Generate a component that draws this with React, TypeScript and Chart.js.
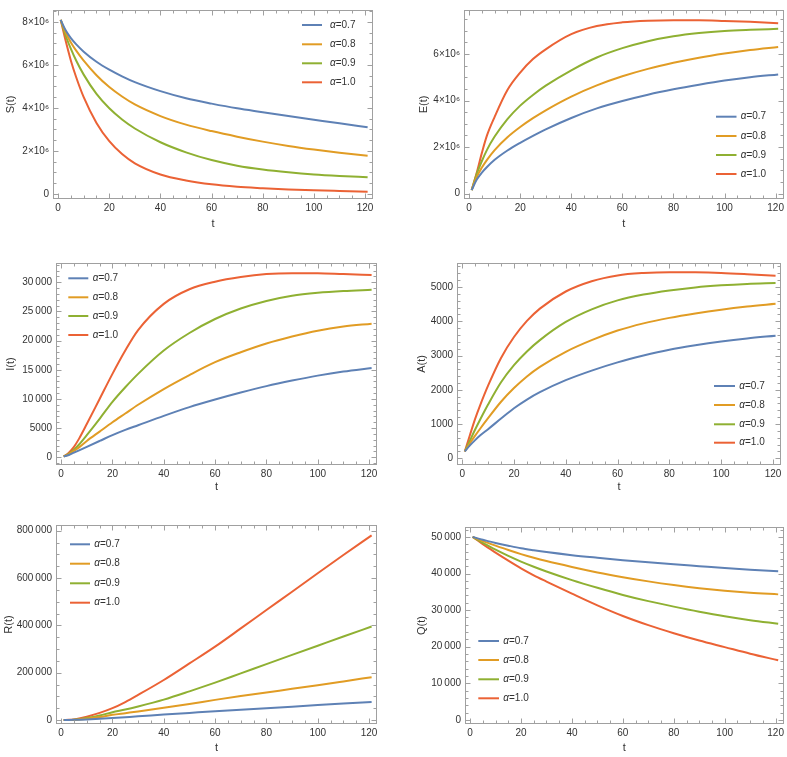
import React, { useEffect, useRef } from "react";
import { Chart, registerables } from "chart.js";

Chart.register(...registerables);

// ---------- data ----------
const T = [1, 3, 5, 7, 10, 15, 20, 25, 30, 40, 50, 60, 70, 80, 90, 100, 110, 121];
const ALPHA_LABELS = ["0.7", "0.8", "0.9", "1.0"];
const COLORS = ["#5E81B5", "#E19C24", "#8FB032", "#EB6235"];

const X_TICKS = [0, 20, 40, 60, 80, 100, 120];
const X_TICK_LABELS = ["0", "20", "40", "60", "80", "100", "120"];

// S(t)
const S_A07 = [8.1e6, 7.6e6, 7.25e6, 6.97e6, 6.62e6, 6.15e6, 5.78e6, 5.47e6, 5.2e6, 4.78e6, 4.45e6, 4.2e6, 3.98e6, 3.8e6, 3.62e6, 3.45e6, 3.28e6, 3.1e6];
const S_A08 = [8.1e6, 7.5e6, 7.05e6, 6.68e6, 6.2e6, 5.52e6, 4.97e6, 4.53e6, 4.16e6, 3.62e6, 3.22e6, 2.92e6, 2.66e6, 2.43e6, 2.23e6, 2.06e6, 1.91e6, 1.77e6];
const S_A09 = [8.1e6, 7.35e6, 6.75e6, 6.22e6, 5.55e6, 4.65e6, 3.98e6, 3.46e6, 3.04e6, 2.4e6, 1.93e6, 1.57e6, 1.31e6, 1.13e6, 1.0e6, 0.9e6, 0.83e6, 0.77e6];
const S_A10 = [8.1e6, 7.1e6, 6.2e6, 5.45e6, 4.5e6, 3.3e6, 2.45e6, 1.85e6, 1.42e6, 0.9e6, 0.62e6, 0.44e6, 0.33e6, 0.26e6, 0.2e6, 0.16e6, 0.13e6, 0.1e6];
const S_TICKS = [0, 2e6, 4e6, 6e6, 8e6];
const S_TICK_LABELS = ["0", "2×10⁶", "4×10⁶", "6×10⁶", "8×10⁶"];

// E(t)
const E_A07 = [0.15e6, 0.6e6, 0.9e6, 1.14e6, 1.45e6, 1.85e6, 2.18e6, 2.48e6, 2.76e6, 3.25e6, 3.66e6, 3.98e6, 4.25e6, 4.48e6, 4.68e6, 4.86e6, 5.0e6, 5.12e6];
const E_A08 = [0.15e6, 0.72e6, 1.12e6, 1.45e6, 1.87e6, 2.42e6, 2.86e6, 3.24e6, 3.58e6, 4.17e6, 4.65e6, 5.04e6, 5.36e6, 5.62e6, 5.84e6, 6.02e6, 6.17e6, 6.3e6];
const E_A09 = [0.15e6, 0.85e6, 1.4e6, 1.88e6, 2.45e6, 3.2e6, 3.78e6, 4.24e6, 4.64e6, 5.3e6, 5.85e6, 6.25e6, 6.55e6, 6.76e6, 6.9e6, 6.99e6, 7.04e6, 7.08e6];
const E_A10 = [0.15e6, 0.9e6, 1.75e6, 2.5e6, 3.3e6, 4.45e6, 5.2e6, 5.78e6, 6.2e6, 6.85e6, 7.2e6, 7.36e6, 7.43e6, 7.45e6, 7.45e6, 7.42e6, 7.38e6, 7.32e6];
const E_TICKS = [0, 2e6, 4e6, 6e6];
const E_TICK_LABELS = ["0", "2×10⁶", "4×10⁶", "6×10⁶"];

// I(t)
const I_A07 = [150, 400, 800, 1200, 1800, 2800, 3800, 4700, 5500, 7100, 8600, 9900, 11100, 12200, 13150, 14000, 14700, 15300];
const I_A08 = [150, 500, 1100, 1700, 2800, 4400, 6000, 7500, 9000, 11700, 14100, 16300, 18000, 19500, 20700, 21700, 22400, 22900];
const I_A09 = [150, 600, 1300, 2200, 3800, 6600, 9500, 12000, 14300, 18300, 21300, 23700, 25500, 26800, 27700, 28200, 28500, 28700];
const I_A10 = [150, 800, 1800, 3200, 5700, 10000, 14300, 18300, 21800, 26300, 28800, 30100, 30900, 31400, 31550, 31550, 31400, 31250];
const I_TICKS = [0, 5000, 10000, 15000, 20000, 25000, 30000];
const I_TICK_LABELS = ["0", "5000", "10\u2009000", "15\u2009000", "20\u2009000", "25\u2009000", "30\u2009000"];

// A(t)
const A_A07 = [200, 375, 530, 670, 850, 1160, 1460, 1715, 1930, 2280, 2560, 2800, 3000, 3170, 3300, 3410, 3500, 3580];
const A_A08 = [200, 440, 660, 870, 1170, 1650, 2050, 2390, 2670, 3110, 3450, 3730, 3940, 4100, 4230, 4340, 4430, 4510];
const A_A09 = [200, 520, 840, 1140, 1570, 2220, 2720, 3120, 3450, 3980, 4350, 4610, 4780, 4900, 4990, 5050, 5090, 5115];
const A_A10 = [200, 680, 1150, 1560, 2120, 2930, 3540, 4010, 4370, 4870, 5170, 5340, 5410, 5435, 5430, 5410, 5375, 5330];
const A_TICKS = [0, 1000, 2000, 3000, 4000, 5000];
const A_TICK_LABELS = ["0", "1000", "2000", "3000", "4000", "5000"];

// R(t)
const R_A07 = [0, 200, 600, 1200, 2300, 5000, 8500, 12000, 15500, 23000, 30000, 37000, 43500, 50000, 56500, 63000, 69500, 76000];
const R_A08 = [0, 300, 1200, 2500, 5500, 12500, 22000, 29000, 36000, 52000, 68000, 85000, 101000, 116000, 132000, 147000, 163000, 181000];
const R_A09 = [0, 400, 1500, 3500, 8000, 19000, 33000, 44000, 57000, 86000, 121000, 158000, 197000, 236000, 275000, 314000, 353000, 395000];
const R_A10 = [0, 600, 2500, 6000, 14000, 30000, 50000, 76000, 106000, 169000, 239000, 310000, 387000, 465000, 542000, 620000, 697000, 780000];
const R_TICKS = [0, 200000, 400000, 600000, 800000];
const R_TICK_LABELS = ["0", "200\u2009000", "400\u2009000", "600\u2009000", "800\u2009000"];

// Q(t)
const Q_A07 = [50000, 49600, 49200, 48850, 48350, 47600, 46900, 46350, 45850, 45000, 44300, 43650, 43050, 42500, 42000, 41500, 41050, 40600];
const Q_A08 = [50000, 49400, 48850, 48350, 47600, 46400, 45300, 44300, 43400, 41800, 40300, 39000, 37850, 36850, 36000, 35300, 34750, 34300];
const Q_A09 = [50000, 49150, 48350, 47600, 46500, 44800, 43250, 41850, 40550, 38200, 36100, 34150, 32450, 30950, 29550, 28300, 27250, 26300];
const Q_A10 = [50000, 49000, 48000, 47050, 45700, 43500, 41400, 39500, 37800, 34500, 31300, 28400, 25900, 23700, 21700, 19900, 18100, 16300];
const Q_TICKS = [0, 10000, 20000, 30000, 40000, 50000];
const Q_TICK_LABELS = ["0", "10\u2009000", "20\u2009000", "30\u2009000", "40\u2009000", "50\u2009000"];

// ---------- layout ----------
const FONT = "'Liberation Sans', Arial, sans-serif";
const X_MIN = -2;
const X_MAX = 123.1;
const X_MINOR = 5;

type Panel = {
  title: string;
  series: number[][];
  yMin: number;
  yMax: number;
  yTicks: number[];
  yLabels: string[];
  yMinor: number;
  canvas: { left: number; top: number; width: number; height: number };
  frame: { left: number; top: number; right: number; bottom: number };
  legend: { x1: number; x2: number; tx: number; ys: number[] };
};

const PANELS: Panel[] = [
  {
    title: "S(t)", series: [S_A07, S_A08, S_A09, S_A10],
    yMin: -0.243e6, yMax: 8.56e6, yTicks: S_TICKS, yLabels: S_TICK_LABELS, yMinor: 0.5e6,
    canvas: { left: 0, top: 0, width: 390, height: 235 },
    frame: { left: 53, top: 0, right: 373, bottom: 199 },
    legend: { x1: 302, x2: 322, tx: 330, ys: [25, 44.3, 63.3, 82.3] },
  },
  {
    title: "E(t)", series: [E_A07, E_A08, E_A09, E_A10],
    yMin: -0.233e6, yMax: 7.89e6, yTicks: E_TICKS, yLabels: E_TICK_LABELS, yMinor: 0.5e6,
    canvas: { left: 413, top: 0, width: 374, height: 235 },
    frame: { left: 464, top: 0, right: 785, bottom: 199 },
    legend: { x1: 716, x2: 736.5, tx: 740.7, ys: [116.7, 136, 155, 174] },
  },
  {
    title: "I(t)", series: [I_A07, I_A08, I_A09, I_A10],
    yMin: -1320, yMax: 33300, yTicks: I_TICKS, yLabels: I_TICK_LABELS, yMinor: 1000,
    canvas: { left: 0, top: 250, width: 390, height: 248 },
    frame: { left: 56, top: 263, right: 377, bottom: 465 },
    legend: { x1: 68.3, x2: 88.3, tx: 92.7, ys: [278.3, 297.3, 316, 335] },
  },
  {
    title: "A(t)", series: [A_A07, A_A08, A_A09, A_A10],
    yMin: -196, yMax: 5702, yTicks: A_TICKS, yLabels: A_TICK_LABELS, yMinor: 200,
    canvas: { left: 411, top: 250, width: 376, height: 248 },
    frame: { left: 457, top: 263, right: 781, bottom: 465 },
    legend: { x1: 714, x2: 735, tx: 739.3, ys: [386, 405, 424.3, 442.7] },
  },
  {
    title: "R(t)", series: [R_A07, R_A08, R_A09, R_A10],
    yMin: -16900, yMax: 824000, yTicks: R_TICKS, yLabels: R_TICK_LABELS, yMinor: 50000,
    canvas: { left: -2, top: 500, width: 392, height: 259 },
    frame: { left: 56, top: 525, right: 377, bottom: 724 },
    legend: { x1: 70, x2: 90, tx: 94.3, ys: [544.3, 563.7, 583.3, 602.7] },
  },
  {
    title: "Q(t)", series: [Q_A07, Q_A08, Q_A09, Q_A10],
    yMin: -1100, yMax: 52700, yTicks: Q_TICKS, yLabels: Q_TICK_LABELS, yMinor: 2000,
    canvas: { left: 411, top: 500, width: 376, height: 259 },
    frame: { left: 465, top: 527, right: 786, bottom: 724 },
    legend: { x1: 478.3, x2: 499, tx: 503.3, ys: [641, 660, 679.3, 698.3] },
  },
];

const FRAME_COLOR = "#a0a0a0";
const TEXT_COLOR = "#333333";

function makeFramePlugin(p: Panel) {
  return {
    id: "mmaFrame",
    afterDraw(chart: any) {
      const { ctx, chartArea } = chart;
      const xs = chart.scales.x;
      const ys = chart.scales.y;
      const L = Math.round(chartArea.left) + 0.5;
      const R = Math.round(chartArea.right) - 0.5;
      const Tp = Math.round(chartArea.top) + 0.5;
      const B = Math.round(chartArea.bottom) - 0.5;
      ctx.save();
      ctx.strokeStyle = FRAME_COLOR;
      ctx.lineWidth = 1;
      ctx.strokeRect(L, Tp, R - L, B - Tp);
      const major = 5;
      const minor = 3;
      ctx.beginPath();
      for (let v = Math.ceil(X_MIN / X_MINOR) * X_MINOR; v <= X_MAX; v += X_MINOR) {
        const isMajor = X_TICKS.indexOf(v) >= 0;
        const len = isMajor ? major : minor;
        const px = Math.round(xs.getPixelForValue(v)) + 0.5;
        ctx.moveTo(px, B);
        ctx.lineTo(px, B - len);
        ctx.moveTo(px, Tp);
        ctx.lineTo(px, Tp + len);
      }
      const start = Math.ceil(p.yMin / p.yMinor);
      const end = Math.floor(p.yMax / p.yMinor);
      for (let k = start; k <= end; k++) {
        const v = k * p.yMinor;
        const isMajor = p.yTicks.some((t) => Math.abs(t - v) < p.yMinor * 0.01);
        const len = isMajor ? major : minor;
        const py = Math.round(ys.getPixelForValue(v)) + 0.5;
        ctx.moveTo(L, py);
        ctx.lineTo(L + len, py);
        ctx.moveTo(R, py);
        ctx.lineTo(R - len, py);
      }
      ctx.stroke();

      // legend
      const ox = p.canvas.left;
      const oy = p.canvas.top;
      ALPHA_LABELS.forEach((lab, i) => {
        const y = p.legend.ys[i] - oy;
        ctx.beginPath();
        ctx.strokeStyle = COLORS[i];
        ctx.lineWidth = 2;
        ctx.moveTo(p.legend.x1 - ox, y);
        ctx.lineTo(p.legend.x2 - ox, y);
        ctx.stroke();
        ctx.fillStyle = TEXT_COLOR;
        ctx.textBaseline = "middle";
        ctx.textAlign = "left";
        ctx.font = `italic 10px ${FONT}`;
        const tx = p.legend.tx - ox;
        ctx.fillText("α", tx, y);
        const w = ctx.measureText("α").width;
        ctx.font = `10px ${FONT}`;
        ctx.fillText("=" + lab, tx + w, y);
      });
      ctx.restore();
    },
  };
}

function PanelChart({ p }: { p: Panel }) {
  const ref = useRef<HTMLCanvasElement | null>(null);
  useEffect(() => {
    if (!ref.current) return;
    const yAxisW = p.frame.left - p.canvas.left;
    const padTop = p.frame.top - p.canvas.top;
    const padRight = p.canvas.left + p.canvas.width - p.frame.right;
    const xAxisH = p.canvas.top + p.canvas.height - p.frame.bottom;
    const chart = new Chart(ref.current, {
      type: "line",
      data: {
        datasets: p.series.map((vals, i) => ({
          label: "α=" + ALPHA_LABELS[i],
          data: T.map((t, j) => ({ x: t, y: vals[j] })),
          borderColor: COLORS[i],
          backgroundColor: COLORS[i],
          borderWidth: 2,
          pointRadius: 0,
          fill: false,
          cubicInterpolationMode: "monotone" as const,
        })),
      },
      options: {
        animation: false,
        responsive: false,
        devicePixelRatio: 1,
        layout: { padding: { top: padTop, right: padRight, left: 0, bottom: 0 } },
        plugins: { legend: { display: false }, tooltip: { enabled: false } },
        scales: {
          x: {
            type: "linear",
            min: X_MIN,
            max: X_MAX,
            grid: { display: false, drawTicks: false },
            border: { display: false },
            afterBuildTicks: (scale: any) => {
              scale.ticks = X_TICKS.map((v) => ({ value: v }));
            },
            afterFit: (scale: any) => {
              scale.height = xAxisH;
            },
            ticks: {
              autoSkip: false,
              maxRotation: 0,
              padding: 3,
              color: TEXT_COLOR,
              font: { family: FONT, size: 10 },
              callback: (v: any) => X_TICK_LABELS[X_TICKS.indexOf(Number(v))] ?? "",
            },
            title: {
              display: true,
              text: "t",
              color: TEXT_COLOR,
              font: { family: FONT, size: 11 },
              padding: { top: 4, bottom: 4 },
            },
          },
          y: {
            type: "linear",
            min: p.yMin,
            max: p.yMax,
            grid: { display: false, drawTicks: false },
            border: { display: false },
            afterBuildTicks: (scale: any) => {
              scale.ticks = p.yTicks.map((v) => ({ value: v }));
            },
            afterFit: (scale: any) => {
              scale.width = yAxisW;
            },
            ticks: {
              autoSkip: false,
              padding: 4,
              color: TEXT_COLOR,
              font: { family: FONT, size: 10 },
              callback: (v: any) => p.yLabels[p.yTicks.indexOf(Number(v))] ?? "",
            },
            title: {
              display: true,
              text: p.title,
              color: TEXT_COLOR,
              font: { family: FONT, size: 11 },
              padding: { top: 4, bottom: 4 },
            },
          },
        },
      },
      plugins: [makeFramePlugin(p)],
    });
    return () => chart.destroy();
  }, [p]);
  return (
    <canvas
      ref={ref}
      width={p.canvas.width}
      height={p.canvas.height}
      style={{ position: "absolute", left: p.canvas.left, top: p.canvas.top, width: p.canvas.width, height: p.canvas.height }}
    />
  );
}

export default function App() {
  return (
    <div
      style={{
        position: "absolute",
        left: 0,
        top: 0,
        width: 787,
        height: 757,
        overflow: "hidden",
        background: "#ffffff",
      }}
    >
      {PANELS.map((p, i) => (
        <PanelChart key={i} p={p} />
      ))}
    </div>
  );
}
